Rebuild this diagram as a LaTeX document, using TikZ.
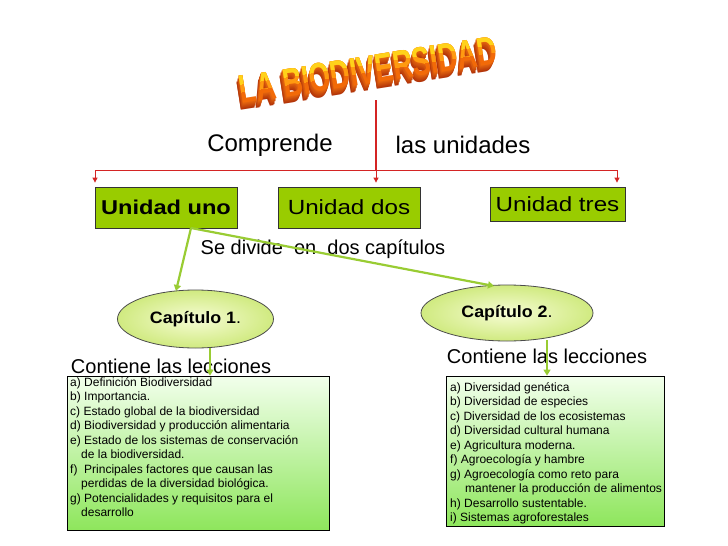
\documentclass[tikz,border=0pt]{standalone}
\usepackage{fontspec}
\setmainfont{Liberation Sans}
\usetikzlibrary{shapes.geometric,arrows.meta}
\definecolor{unitgreen}{HTML}{99CC00}
\definecolor{linkgreen}{HTML}{99CC33}
\definecolor{redline}{HTML}{D42424}
\definecolor{boxtop}{HTML}{F2FFEC}
\definecolor{boxbot}{HTML}{8EE65C}
\definecolor{ellin}{HTML}{F6FCD4}
\definecolor{ellout}{HTML}{D0EA80}
\definecolor{extA}{HTML}{E86A10}
\definecolor{extB}{HTML}{A82A08}
\definecolor{faceA}{HTML}{F26A08}
\definecolor{faceB}{HTML}{FF9A10}
\definecolor{faceC}{HTML}{FFD21A}
\newcommand\titletext{\scalebox{0.68}[1]{\fontsize{40}{40}\selectfont\bfseries LA BIODIVERSIDAD}}
\newcommand\wide[1]{\scalebox{1.18}[1]{#1}}
\tikzset{
  unitbox/.style={draw=black!80, line width=0.8pt, fill=unitgreen, inner sep=0pt},
  chapell/.style={ellipse, draw=black!70, line width=0.8pt, inner color=ellin, outer color=ellout, inner sep=0pt},
  lessonbox/.style={draw=black, line width=0.8pt, top color=boxtop, bottom color=boxbot, inner sep=0pt},
  lessontext/.style={anchor=north west, align=left, inner sep=0pt, font=\fontsize{12}{14.5}\selectfont},
  bigtext/.style={inner sep=0pt, font=\fontsize{20}{24}\selectfont},
  redconn/.style={draw=redline, line width=0.9pt},
  redarrow/.style={redconn, -{Triangle[width=5pt,length=5pt]}},
  greenarrow/.style={draw=linkgreen, line width=2.2pt, -{Triangle[width=7pt,length=6pt]}},
  ttl/.style={inner sep=0pt, rotate=9}
}
\begin{document}
\begin{tikzpicture}[x=1pt,y=-1pt]
\useasboundingbox[fill=white] (0,0) rectangle (728,546);

% title (WordArt-like)
\foreach \k in {7,6,...,1}{
  \pgfmathsetmacro\mix{100-\k*12}
  \node[ttl, text=extA!\mix!extB] (ext\k) at ({368-0.35*\k},{70+\k}) {\titletext};
}
\node[ttl, text=faceA] (tface) at (368,70) {\titletext};
\begin{scope}[rotate around={9:(368,70)}]
  \clip (150,40) rectangle (600,72);
  \node[ttl, text=faceB] (tface2) at (368,70) {\titletext};
\end{scope}
\begin{scope}[rotate around={9:(368,70)}]
  \clip (150,40) rectangle (600,64);
  \node[ttl, text=faceC] (tface3) at (368,70) {\titletext};
\end{scope}

% units
\node[unitbox, minimum width=142pt, minimum height=41pt, font=\bfseries\fontsize{20}{24}\selectfont] (u1) at (166,207.5) {\wide{Unidad uno}};
\node[unitbox, minimum width=142pt, minimum height=41pt, font=\fontsize{20.5}{24}\selectfont] (u2) at (349,207.5) {\wide{Unidad dos}};
\node[unitbox, minimum width=135pt, minimum height=34pt, font=\fontsize{20.5}{24}\selectfont] (u3) at (557.5,204) {\wide{Unidad tres}};

% red connectors
\coordinate (t0) at (376,100);
\coordinate (jm) at (376,170);
\coordinate (jl) at (95,170);
\coordinate (jr) at (617,170);
\draw[redconn, line width=2pt] (t0) -- (jm);
\draw[redconn] (jl) -- (jr);
\draw[redarrow, shorten >=4pt] (jl) -- (u1.north -| jl);
\draw[redarrow, shorten >=4pt] (jm) -- (u2.north -| jm);
\draw[redarrow, shorten >=4pt] (jr) -- (u3.north -| jr);

\node[bigtext, font=\fontsize{24}{28}\selectfont] (comp) at (270,145) {Comprende};
\node[bigtext, font=\fontsize{24}{28}\selectfont] (lasu) at (463,145) {las unidades};

% chapters
\node[chapell, minimum width=156pt, minimum height=58pt, font=\fontsize{16.5}{18}\selectfont] (c1) at (195.5,319) {\scalebox{1.08}[1]{\textbf{Capítulo 1}.}};
\node[chapell, minimum width=172pt, minimum height=56pt, font=\fontsize{16.5}{18}\selectfont] (c2) at (507,313) {\scalebox{1.08}[1]{\textbf{Capítulo 2}.}};

\node[bigtext] (sed) at (323,249) {Se divide\ \ en\ \ dos capítulos};

\coordinate (g0) at (191,228);
\coordinate (c1t) at (176,291);
\coordinate (c2t) at (494,286);
\draw[greenarrow] (g0) -- (c1t);
\draw[greenarrow] (g0) -- (c2t);

% lesson boxes
\node[lessonbox, minimum width=262pt, minimum height=154pt] (b1) at (198,453) {};
\node[lessonbox, minimum width=218pt, minimum height=150pt] (b2) at (555,451) {};

\node[bigtext] (cont1) at (171,366) {Contiene las lecciones};
\node[bigtext] (cont2) at (547,356) {Contiene las lecciones};

\coordinate (c1b) at (210,348);
\coordinate (c2b) at (547,340);
\draw[greenarrow, line width=2pt] (c1b) -- (b1.north -| c1b);
\draw[greenarrow, line width=2pt] (c2b) -- (b2.north -| c2b);

\node[lessontext] (l1) at (70,377) {%
a) Definición Biodiversidad\\
b) Importancia.\\
c) Estado global de la biodiversidad\\
d) Biodiversidad y producción alimentaria\\
e) Estado de los sistemas de conservación\\
\hspace*{11pt}de la biodiversidad.\\
f)\ \ Principales factores que causan las\\
\hspace*{11pt}perdidas de la diversidad biológica.\\
g) Potencialidades y requisitos para el\\
\hspace*{11pt}desarrollo};

\node[lessontext] (l2) at (450,382) {%
a) Diversidad genética\\
b) Diversidad de especies\\
c) Diversidad de los ecosistemas\\
d) Diversidad cultural humana\\
e) Agricultura moderna.\\
f) Agroecología y hambre\\
g) Agroecología como reto para\\
\hspace*{15pt}mantener la producción de alimentos\\
h) Desarrollo sustentable.\\
i) Sistemas agroforestales};
\end{tikzpicture}
\end{document}
